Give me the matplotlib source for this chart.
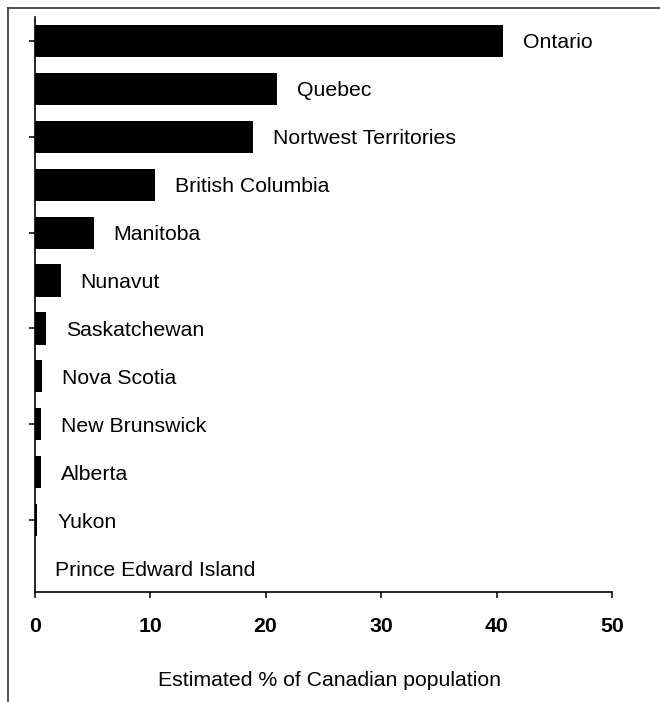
import matplotlib
matplotlib.use("Agg")
import matplotlib.pyplot as plt
from matplotlib.lines import Line2D

plt.rcParams['font.family'] = ['Liberation Sans', 'DejaVu Sans']

# ---- data ----
provinces = ["Ontario", "Quebec", "Nortwest Territories", "British Columbia",
             "Manitoba", "Nunavut", "Saskatchewan", "Nova Scotia",
             "New Brunswick", "Alberta", "Yukon", "Prince Edward Island"]
pct = [40.6, 21.0, 18.9, 10.4, 5.1, 2.25, 0.95, 0.66, 0.52, 0.52, 0.23, 0.0]
x_ticks = [0, 10, 20, 30, 40, 50]

W, H = 660, 702
FS = 15.3
fig = plt.figure(figsize=(W / 100, H / 100), dpi=100)
ax = fig.add_axes([34.7 / W, 1 - 592 / H, (612 - 34.7) / W, (592 - 17) / H])

ypos = list(range(len(provinces)))
ax.barh(ypos, pct, height=0.67, color='black', linewidth=0)

for y, v, name in zip(ypos, pct, provinces):
    ax.annotate(name, (v, y), xytext=(20, -2), textcoords='offset pixels',
                va='center', ha='left', fontsize=FS)

ax.set_xlim(0, 50)
ax.set_ylim(len(provinces) - 0.5, -0.5)
ax.set_xticks(x_ticks)
ax.set_xticklabels([str(t) for t in x_ticks], fontsize=FS, fontweight='bold')
ax.set_yticks(ypos[::2])
ax.set_yticklabels([])
ax.tick_params(axis='x', direction='out', length=4, width=1.1, pad=14)
ax.tick_params(axis='y', direction='out', length=4, width=1.1)

for s in ['top', 'right']:
    ax.spines[s].set_visible(False)
for s in ['left', 'bottom']:
    ax.spines[s].set_linewidth(1.2)

fig.text(330 / W, 1 - 680 / H, "Estimated % of Canadian population",
         ha='center', va='center', fontsize=FS)

# outer frame (top and left edges visible)
fig.add_artist(Line2D([8 / W, 1], [1 - 7.5 / H, 1 - 7.5 / H], color='#333333', lw=1.2,
                      transform=fig.transFigure))
fig.add_artist(Line2D([8 / W, 8 / W], [0, 1 - 7.5 / H], color='#333333', lw=1.2,
                      transform=fig.transFigure))

fig.savefig("out.png", dpi=100)
